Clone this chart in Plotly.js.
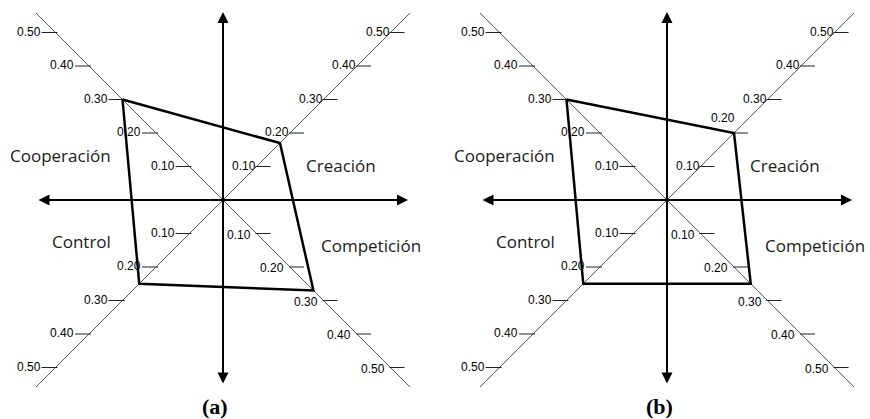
<!DOCTYPE html>
<html><head><meta charset="utf-8">
<script src="https://cdn.plot.ly/plotly-3.0.1.min.js"></script>
<style>html,body{margin:0;padding:0;background:#fff}#chart{width:870px;height:419px}</style>
</head><body><div id="chart"></div>
<script>
// ---- data ----
const categories = ['Cooperación', 'Creación', 'Competición', 'Control'];
const valuesA = [0.30, 0.17, 0.27, 0.25];
const valuesB = [0.30, 0.20, 0.25, 0.25];
const tickValues = [0.1, 0.2, 0.3, 0.4, 0.5];
const tickLabels = ['0.10', '0.20', '0.30', '0.40', '0.50'];
const panelLabels = ['(a)', '(b)'];

// ---- layout geometry ----
const W = 870, H = 419, S = 335;          // pixels per unit
const p = d => d / S;
const dirs = [[-1, 1], [1, 1], [1, -1], [-1, -1]];  // quadrant of each category
const labelOffsets = [[-163, 45], [118, 35], [148, -45], [-142, -41]];
const panels = [
  {vals: valuesA, cx: 223, xa: 'x', ya: 'y', dom: [0, 0.5], label: panelLabels[0]},
  {vals: valuesB, cx: 667, xa: 'x2', ya: 'y2', dom: [0.5, 1], label: panelLabels[1]}
];
const cy = 200;
const L = p(187);

const traces = [];
const annotations = [];
const layout = {
  width: W, height: H, margin: {l: 0, r: 0, t: 0, b: 0},
  paper_bgcolor: '#fff', plot_bgcolor: '#fff', showlegend: false
};

panels.forEach((pn, k) => {
  const sfx = k === 0 ? '' : '2';
  const x0 = W * pn.dom[0], x1 = W * pn.dom[1];
  layout['xaxis' + sfx] = {domain: pn.dom, range: [p(x0 - pn.cx), p(x1 - pn.cx)], visible: false, fixedrange: true};
  layout['yaxis' + sfx] = {domain: [0, 1], range: [p(cy - H), p(cy)], visible: false, fixedrange: true};

  // diagonals
  traces.push({type: 'scatter', mode: 'lines', xaxis: pn.xa, yaxis: pn.ya,
    x: [-L, L, null, -L, L], y: [L, -L, null, -L, L],
    line: {color: '#5a5a5a', width: 1}, hoverinfo: 'skip'});

  // ticks
  const tx = [], ty = [];
  dirs.forEach(([dx, dy]) => {
    tickValues.forEach(v => {
      if (dx < 0) { tx.push(-v - p(14), -v + p(2), null); }
      else { tx.push(v - p(1), v + p(14), null); }
      ty.push(dy * v, dy * v, null);
    });
  });
  traces.push({type: 'scatter', mode: 'lines', xaxis: pn.xa, yaxis: pn.ya, x: tx, y: ty,
    line: {color: '#222', width: 1}, hoverinfo: 'skip'});

  // tick labels
  dirs.forEach(([dx, dy], q) => {
    tickValues.forEach((v, i) => {
      let x, xs;
      if (dx < 0) { x = -v - p(14); xs = 1; }
      else { x = v; xs = dy > 0 ? 1 : -4; }
      let ys = dy < 0 && dx > 0 ? -1 : 1;
      // in panel (b) the Creación 0.20 label is lifted above the polygon vertex
      if (k === 1 && q === 1 && i === 1) { ys = 15; xs = 3; }
      annotations.push({xref: pn.xa, yref: pn.ya, x: x, y: dy * v, xshift: xs, yshift: ys,
        text: tickLabels[i], showarrow: false, xanchor: 'right', yanchor: 'middle',
        font: {family: 'Liberation Sans, Arial, sans-serif', size: 12, color: '#000'}});
    });
  });

  // polygon
  const px = pn.vals.map((v, i) => dirs[i][0] * v);
  const py = pn.vals.map((v, i) => dirs[i][1] * v);
  px.push(px[0]); py.push(py[0]);
  traces.push({type: 'scatter', mode: 'lines', xaxis: pn.xa, yaxis: pn.ya, x: px, y: py,
    line: {color: '#000', width: 2.5}, hoverinfo: 'skip'});

  // arrows
  const arrowBase = {xref: pn.xa, yref: pn.ya, axref: pn.xa, ayref: pn.ya, text: '', showarrow: true,
    arrowhead: 2, arrowsize: 1.1, arrowwidth: 2, arrowcolor: '#000', arrowside: 'end+start', standoff: 0, startstandoff: 0};
  annotations.push(Object.assign({}, arrowBase, {x: p(185), y: 0, ax: p(-186), ay: 0}));
  annotations.push(Object.assign({}, arrowBase, {x: 0, y: p(188), ax: 0, ay: p(-185)}));

  // quadrant labels
  categories.forEach((c, i) => {
    annotations.push({xref: pn.xa, yref: pn.ya, x: p(labelOffsets[i][0]), y: p(labelOffsets[i][1]),
      text: c, showarrow: false, xanchor: 'center', yanchor: 'middle',
      font: {family: 'Open Sans, sans-serif', size: 17, color: '#1a1a1a'}});
  });

  // panel label (sits on the bottom edge)
  annotations.push({xref: pn.xa, yref: 'paper', x: p(-8), y: 0, text: '<b>' + pn.label + '</b>',
    showarrow: false, xanchor: 'center', yanchor: 'bottom', borderpad: 0, yshift: -1,
    font: {family: 'Liberation Serif, Times New Roman, serif', size: 22, color: '#000'}});
});

layout.annotations = annotations;
Plotly.newPlot('chart', traces, layout, {displayModeBar: false, staticPlot: true});
</script>
</body></html>
